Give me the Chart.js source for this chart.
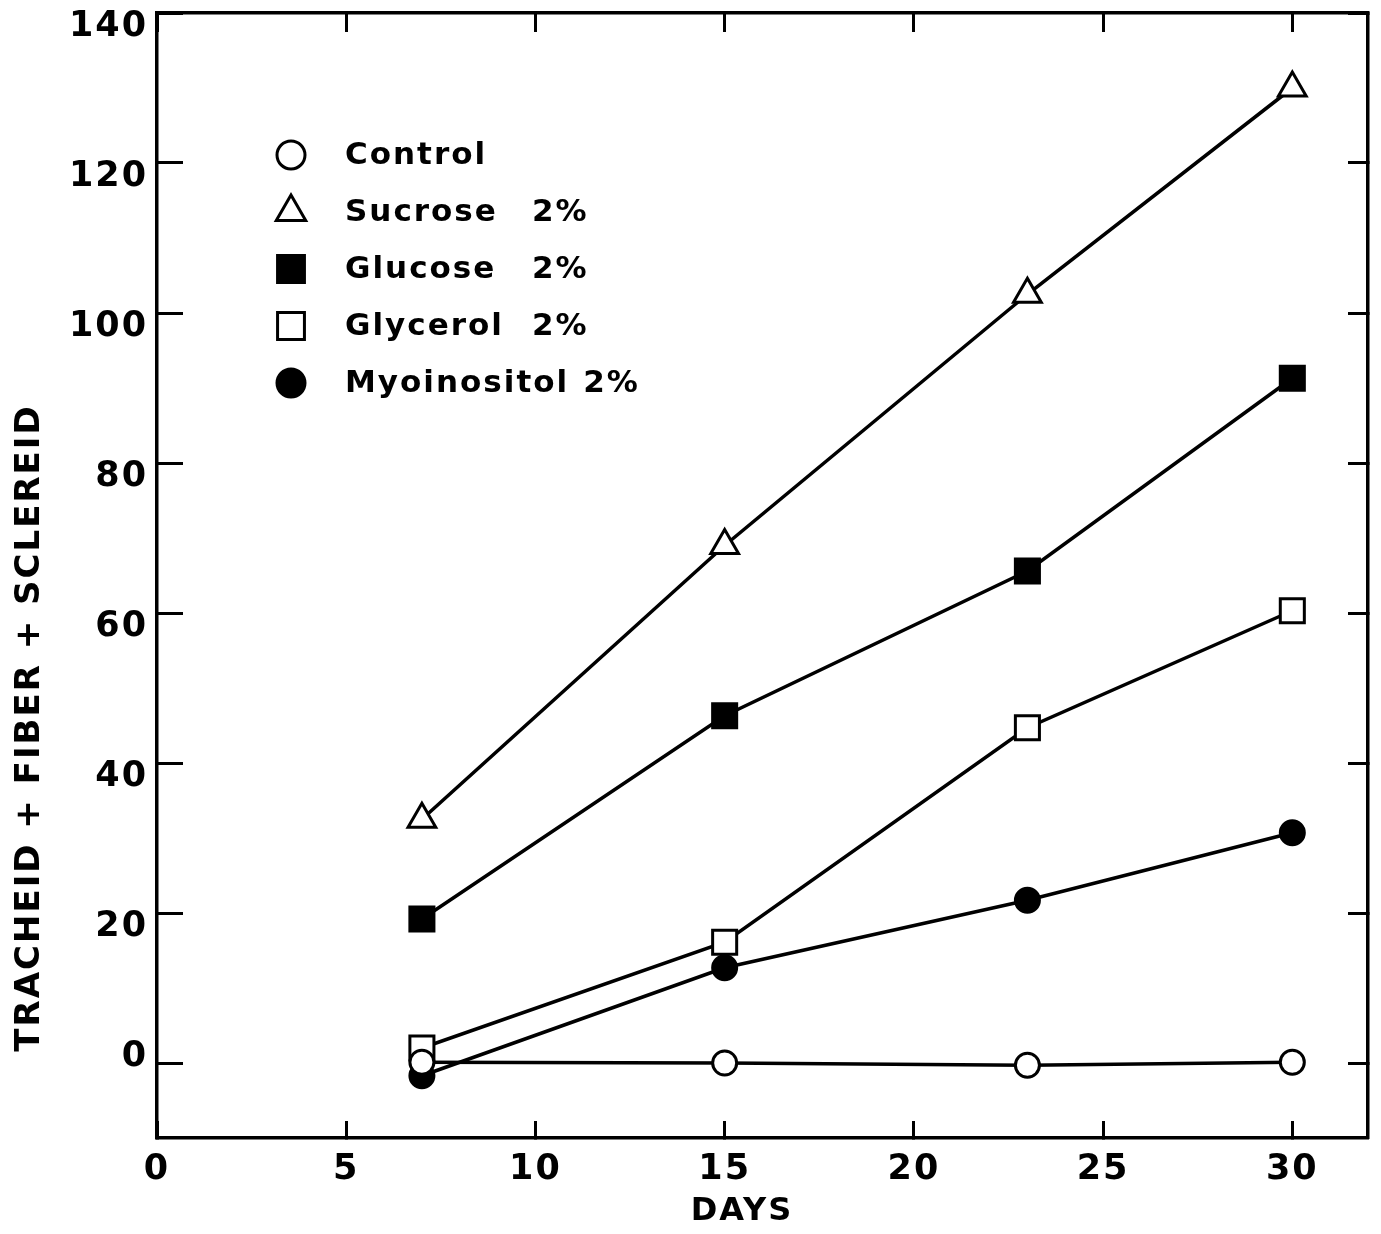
<!DOCTYPE html>
<html>
<head>
<meta charset="utf-8">
<title>Tracheid + fiber + sclereid</title>
<script src="https://cdn.jsdelivr.net/npm/chart.js@4/dist/chart.umd.min.js"></script>
<style>
  html, body { margin: 0; padding: 0; background: #fff; }
  #wrap { position: relative; width: 1381px; height: 1234px; }
</style>
</head>
<body>
<div id="wrap"><canvas id="cells"></canvas></div>
<script>
// days in culture and cell counts per treatment
const days = [7, 15, 23, 30];
const control = [0.1, 0, -0.3, 0.1];
const sucrose = [32.5, 69, 102.5, 130];
const glucose = [19.2, 46.3, 65.6, 91.3];
const glycerol = [2, 16.1, 44.7, 60.3];
const myoinositol = [-1.7, 12.7, 21.7, 30.7];

const seriesLabels = ['Control', 'Sucrose  2%', 'Glucose  2%', 'Glycerol  2%', 'Myoinositol  2%'];
const xTickValues = [0, 5, 10, 15, 20, 25, 30];
const yTickValues = [0, 20, 40, 60, 80, 100, 120, 140];

const FONT = '"DejaVu Sans", sans-serif';
const INK = '#000';

function pts(ys) { return days.map((d, i) => ({ x: d, y: ys[i] })); }

function series(label, ys, style, filled, radius) {
  return {
    label,
    data: pts(ys),
    borderColor: INK,
    borderWidth: 3.5,
    pointStyle: style,
    pointRadius: radius,
    pointHoverRadius: radius,
    pointBorderWidth: 3,
    pointBorderColor: INK,
    pointBackgroundColor: filled ? INK : '#fff',
    fill: false,
    tension: 0
  };
}

const datasets = [
  series(seriesLabels[0], control, 'circle', false, 12),
  series(seriesLabels[1], sucrose, 'triangle', false, 16),
  series(seriesLabels[2], glucose, 'rect', true, 17),
  series(seriesLabels[3], glycerol, 'rect', false, 17),
  series(seriesLabels[4], myoinositol, 'circle', true, 12)
];

// fixed axis boxes so the frame sits where it should
function boxWidth(w) { return s => { s.width = w; s.paddingTop = 0; s.paddingBottom = 0; }; }
function boxHeight(h) { return s => { s.height = h; s.paddingLeft = 0; s.paddingRight = 0; }; }
function useTicks(values) { return s => { s.ticks = values.map(v => ({ value: v })); }; }

// legend drawn inside the plot area; the "2%" parts line up in a column
const innerLegend = {
  id: 'innerLegend',
  afterDatasetsDraw(chart, args, opts) {
    const ctx = chart.ctx;
    ctx.save();
    ctx.letterSpacing = '2px';
    ctx.font = 'bold 31px ' + FONT;
    ctx.textBaseline = 'middle';
    ctx.textAlign = 'left';
    chart.data.datasets.forEach((ds, i) => {
      const y = opts.y + i * opts.row;
      ctx.lineWidth = 3;
      ctx.strokeStyle = INK;
      ctx.fillStyle = ds.pointBackgroundColor;
      const r = ds.pointStyle === 'circle' ? 14 : ds.pointStyle === 'triangle' ? 17 : 19;
      Chart.helpers.drawPoint(ctx, { pointStyle: ds.pointStyle, radius: r, borderWidth: 3 }, opts.markerX, y);
      ctx.fillStyle = INK;
      const [name, dose] = ds.label.split(/\s{2,}/);
      ctx.fillText(name, opts.textX, y + 1);
      if (dose) {
        const end = opts.textX + ctx.measureText(name).width;
        ctx.fillText(dose, Math.max(opts.doseX, end + opts.doseGap), y + 1);
      }
    });
    ctx.restore();
  }
};

// rotated y title and x title
const axisTitles = {
  id: 'axisTitles',
  beforeDraw(chart) { chart.ctx.letterSpacing = '2px'; },
  afterDraw(chart, args, opts) {
    const ctx = chart.ctx;
    ctx.save();
    ctx.letterSpacing = '2px';
    ctx.fillStyle = INK;
    ctx.textAlign = 'center';
    ctx.textBaseline = 'middle';
    ctx.font = 'bold 32px ' + FONT;
    ctx.fillText(opts.xTitle, opts.xTitleX, opts.xTitleY);
    ctx.translate(opts.yTitleX, opts.yTitleY);
    ctx.rotate(-Math.PI / 2);
    ctx.font = 'bold 34px ' + FONT;
    ctx.fillText(opts.yTitle, 0, 0);
    ctx.restore();
  }
};

const xTickFont = { family: FONT, size: 35, weight: 'bold', lineHeight: 1.2 };
// y labels hang just below their ticks; the zero label sits a little above its tick
function yTickFont(c) {
  const zero = c.tick && c.tick.value === 0;
  return { family: FONT, size: 35, weight: 'bold', lineHeight: zero ? 40 / 35 : 0.7 };
}
const frame = { display: true, color: INK, width: 3.5 };

new Chart(document.getElementById('cells'), {
  type: 'line',
  data: { datasets },
  options: {
    responsive: true,
    maintainAspectRatio: false,
    animation: false,
    layout: { padding: 0, autoPadding: false },
    plugins: {
      legend: { display: false },
      tooltip: { enabled: false },
      innerLegend: { markerX: 291, textX: 345, y: 155, row: 57, doseX: 532, doseGap: 14 },
      axisTitles: {
        xTitle: 'DAYS', xTitleX: 742, xTitleY: 1212,
        yTitle: 'TRACHEID + FIBER + SCLEREID', yTitleX: 30, yTitleY: 728
      }
    },
    scales: {
      x: {
        type: 'linear', position: 'bottom', min: 0, max: 32,
        afterBuildTicks: useTicks(xTickValues),
        afterFit: boxHeight(96),
        border: frame,
        grid: { drawOnChartArea: false, drawTicks: true, tickLength: -17, tickWidth: 3, tickColor: INK },
        ticks: { font: xTickFont, color: INK, padding: 28, maxRotation: 0, autoSkip: false }
      },
      x2: {
        type: 'linear', position: 'top', min: 0, max: 32,
        afterBuildTicks: useTicks(xTickValues),
        afterFit: boxHeight(13),
        border: frame,
        grid: { drawOnChartArea: false, drawTicks: true, tickLength: -19, tickWidth: 3, tickColor: INK },
        ticks: { display: false }
      },
      y: {
        type: 'linear', position: 'left', min: -10, max: 140,
        afterBuildTicks: useTicks(yTickValues),
        afterFit: boxWidth(157),
        border: frame,
        grid: { drawOnChartArea: false, drawTicks: true, tickLength: -26, tickWidth: 3, tickColor: INK },
        ticks: {
          font: yTickFont, color: INK, padding: 35, autoSkip: false, labelOffset: 14,
          callback: v => (v === 0 ? ['0', ''] : String(v))
        }
      },
      y2: {
        type: 'linear', position: 'right', min: -10, max: 140,
        afterBuildTicks: useTicks(yTickValues),
        afterFit: boxWidth(13),
        border: frame,
        grid: { drawOnChartArea: false, drawTicks: true, tickLength: -20, tickWidth: 3, tickColor: INK },
        ticks: { display: false }
      }
    }
  },
  plugins: [innerLegend, axisTitles]
});
</script>
</body>
</html>
